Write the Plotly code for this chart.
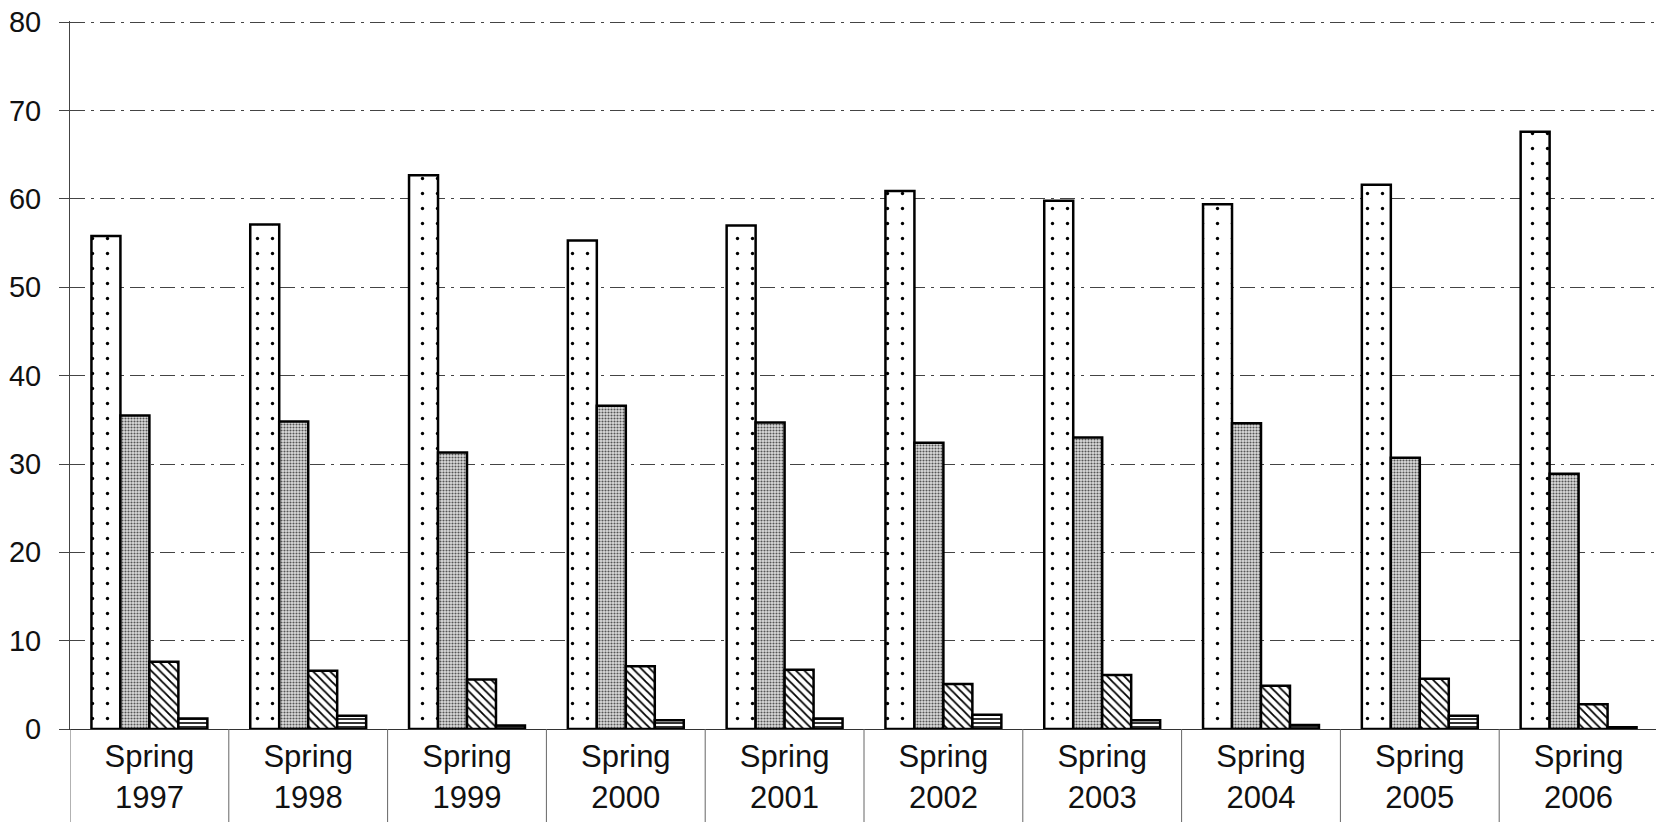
import plotly.graph_objects as go

# ---- data ----
categories = ["Spring<br>1997", "Spring<br>1998", "Spring<br>1999", "Spring<br>2000", "Spring<br>2001",
              "Spring<br>2002", "Spring<br>2003", "Spring<br>2004", "Spring<br>2005", "Spring<br>2006"]
series_dots = [55.8, 57.1, 62.7, 55.3, 57.0, 60.9, 59.8, 59.4, 61.6, 67.6]
series_grey = [35.5, 34.8, 31.3, 36.6, 34.7, 32.4, 33.0, 34.6, 30.7, 28.9]
series_diag = [7.6, 6.6, 5.6, 7.1, 6.7, 5.1, 6.1, 4.9, 5.7, 2.8]
series_horiz = [1.2, 1.5, 0.4, 1.0, 1.2, 1.6, 1.0, 0.45, 1.5, 0.2]
y_ticks = [0, 10, 20, 30, 40, 50, 60, 70, 80]

xpos = list(range(len(categories)))

line = dict(color="black", width=2.5)
fig = go.Figure()
fig.add_trace(go.Bar(x=xpos, y=series_dots, marker=dict(
    color="white", line=line,
    pattern=dict(shape=".", size=15, solidity=0.04, fgcolor="black", bgcolor="white", fillmode="replace"))))
fig.add_trace(go.Bar(x=xpos, y=series_grey, marker=dict(
    color="#b0b0b0", line=line,
    pattern=dict(shape=".", size=3, solidity=0.4, fgcolor="#555555", bgcolor="#dddddd", fillmode="replace"))))
fig.add_trace(go.Bar(x=xpos, y=series_diag, marker=dict(
    color="white", line=line,
    pattern=dict(shape="\\", size=6, solidity=0.3, fgcolor="black", bgcolor="white", fillmode="replace"))))
fig.add_trace(go.Bar(x=xpos, y=series_horiz, marker=dict(
    color="white", line=line,
    pattern=dict(shape="-", size=4, solidity=0.4, fgcolor="black", bgcolor="white", fillmode="replace"))))

font_family = "Liberation Sans, Arial, sans-serif"

# category divider lines in the label area, at category boundaries
shapes = []
for i in range(len(categories) + 1):
    shapes.append(dict(type="line", xref="x", yref="paper", x0=i - 0.5, x1=i - 0.5,
                       y0=0, y1=-0.2, line=dict(color="#666666", width=1)))
# faint right border
shapes.append(dict(type="line", xref="paper", yref="paper", x0=1, x1=1, y0=0, y1=1,
                   line=dict(color="#aaaaaa", width=1, dash="dot")))

# page body has an 8px margin, so the figure is sized to fill the rest of the window
fig.update_layout(
    width=1656, height=814,
    margin=dict(l=62, r=6, t=13, b=93, autoexpand=False),
    paper_bgcolor="white", plot_bgcolor="white",
    showlegend=False,
    barmode="group", bargap=0.27, bargroupgap=0,
    font=dict(family=font_family, color="black"),
    shapes=shapes,
    xaxis=dict(
        range=[-0.5, len(categories) - 0.5],
        tickmode="array", tickvals=xpos, ticktext=categories,
        tickfont=dict(size=31, family=font_family, color="#111111"),
        showgrid=False, zeroline=False, automargin=False,
        showline=True, linecolor="#333333", linewidth=1,
        ticks="", ticklabelstandoff=0,
    ),
    yaxis=dict(
        range=[0, 80.15], tickmode="array", tickvals=y_ticks,
        tickfont=dict(size=29, family=font_family, color="#111111"),
        showgrid=True, gridcolor="#444444", gridwidth=1, griddash="longdashdot",
        zeroline=False, automargin=False, ticklabeloverflow="allow",
        showline=True, linecolor="#444444", linewidth=1,
        ticks="outside", ticklen=10, tickcolor="#444444", ticklabelstandoff=12,
    ),
)

fig.write_html("out.html")
